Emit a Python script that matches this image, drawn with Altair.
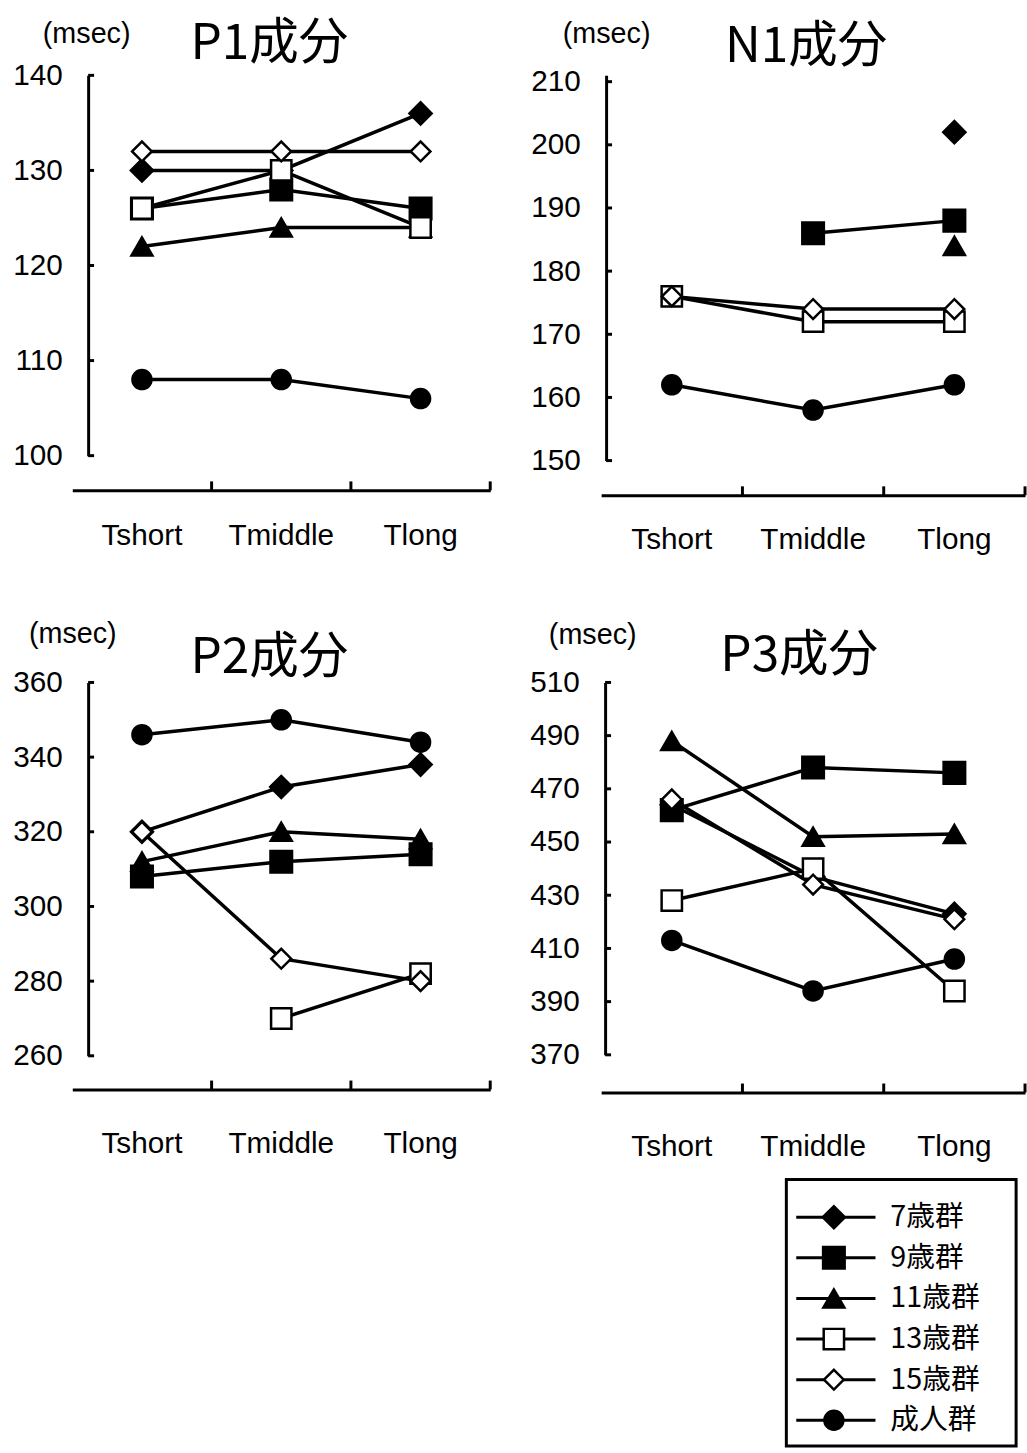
import altair as alt
import pandas as pd

conditions = ["Tshort", "Tmiddle", "Tlong"]
groups = ["7歳群", "9歳群", "11歳群", "13歳群", "15歳群", "成人群"]

# latency in msec for each group, ordered as in `conditions`; None = no peak
p1_values = {
    "7歳群": [130, 130, 136],
    "9歳群": [126, 128, 126],
    "11歳群": [122, 124, 124],
    "13歳群": [126, 130, 124],
    "15歳群": [132, 132, 132],
    "成人群": [108, 108, 106],
}
n1_values = {
    "7歳群": [None, None, 202],
    "9歳群": [None, 186, 188],
    "11歳群": [None, None, 184],
    "13歳群": [176, 172, 172],
    "15歳群": [176, 174, 174],
    "成人群": [162, 158, 162],
}
p2_values = {
    "7歳群": [320, 332, 338],
    "9歳群": [308, 312, 314],
    "11歳群": [312, 320, 318],
    "13歳群": [None, 270, 282],
    "15歳群": [320, 286, 280],
    "成人群": [346, 350, 344],
}
p3_values = {
    "7歳群": [464, 437, 423],
    "9歳群": [462, 478, 476],
    "11歳群": [488, 452, 453],
    "13歳群": [428, 440, 394],
    "15歳群": [466, 434, 421],
    "成人群": [413, 394, 406],
}

p1_ticks = [100, 110, 120, 130, 140]
n1_ticks = [150, 160, 170, 180, 190, 200, 210]
p2_ticks = [260, 280, 300, 320, 340, 360]
p3_ticks = [370, 390, 410, 430, 450, 470, 490, 510]

# marker styling per group
shapes = ["diamond", "square", "triangle-up", "square", "diamond", "circle"]
fills = ["black", "black", "black", "white", "white", "black"]
sizes = [500, 370, 520, 370, 500, 470]

NUM_FONT = "Liberation Sans"
CJK_FONT = "Noto Sans CJK JP"


def to_frame(values):
    rows = []
    for gi, g in enumerate(groups):
        for ci, (c, v) in enumerate(zip(conditions, values[g])):
            if v is not None:
                rows.append({"group": g, "gi": gi, "cond": c, "ci": ci, "value": v})
    return pd.DataFrame(rows)


def marker_encoding():
    return dict(
        shape=alt.Shape("group:N", scale=alt.Scale(domain=groups, range=shapes), legend=None),
        fill=alt.Fill("group:N", scale=alt.Scale(domain=groups, range=fills), legend=None),
        size=alt.Size("group:O", scale=alt.Scale(domain=groups, range=sizes), legend=None),
    )


def panel(title, values, ticks, domain, width, height, y_off, x_off, x_pad,
          unit_x, unit_y, title_dx, title_off):
    df = to_frame(values)
    xscale = alt.Scale(domain=conditions, paddingInner=0, paddingOuter=0)
    yscale = alt.Scale(domain=domain, nice=False, zero=False)
    xaxis = alt.Axis(title=None, ticks=False, tickSize=0, domainWidth=3,
                     domainColor="black", labelFont=NUM_FONT, labelFontSize=30,
                     labelColor="black", labelPadding=x_pad, labelAngle=0,
                     offset=x_off)
    yaxis = alt.Axis(values=ticks, format="d", grid=False, ticks=False, tickSize=0,
                     domainWidth=3, domainColor="black", labelFont=NUM_FONT,
                     labelFontSize=30, labelColor="black", labelPadding=26,
                     offset=y_off, title="(msec)", titleAngle=0, titleX=unit_x,
                     titleY=unit_y, titleAlign="center", titleBaseline="middle",
                     titleFont="Liberation Sans", titleFontSize=29,
                     titleFontWeight="normal", titleColor="black")
    x = alt.X("cond:N", scale=xscale, axis=xaxis, sort=conditions)
    y = alt.Y("value:Q", scale=yscale, axis=yaxis)

    lines = alt.Chart(df).mark_line(color="black", strokeWidth=3.5).encode(
        x=x, y=y, detail="group:N", order="ci:Q"
    )
    # short inward ticks on the value axis
    y_ticks = alt.Chart(pd.DataFrame({"value": ticks})).mark_rule(
        color="black", strokeWidth=3
    ).encode(y=y, x=alt.value(-y_off), x2=alt.value(-y_off + 6))
    # upward ticks on the category axis, at the right edge of each band
    x_ticks = alt.Chart(pd.DataFrame({"cond": conditions})).mark_rule(
        color="black", strokeWidth=3
    ).encode(
        x=alt.X("cond:N", scale=xscale, axis=xaxis, sort=conditions, bandPosition=1),
        y=alt.value(height + x_off - 9),
        y2=alt.value(height + x_off),
    )
    points = alt.Chart(df).mark_point(
        filled=True, stroke="black", strokeWidth=2.5, opacity=1, fillOpacity=1
    ).encode(x=x, y=y, order="gi:Q", **marker_encoding())

    return alt.layer(lines, y_ticks, x_ticks, points).properties(
        width=width, height=height,
        title=alt.TitleParams(text=title, font=CJK_FONT, fontSize=50,
                              fontWeight="normal", color="black", anchor="middle",
                              frame="group", dx=title_dx, offset=title_off),
    )


def legend_layer():
    ldf = pd.DataFrame({"group": groups})
    ly = alt.Y("group:N", scale=alt.Scale(type="point", domain=groups,
                                          range=[540, 745], padding=0), axis=None)
    box = alt.Chart(pd.DataFrame({"k": [0]})).mark_rect(
        fill="white", stroke="black", strokeWidth=3
    ).encode(x=alt.value(187), x2=alt.value(419), y=alt.value(502), y2=alt.value(771))
    rules = alt.Chart(ldf).mark_rule(color="black", strokeWidth=3).encode(
        x=alt.value(197), x2=alt.value(277), y=ly
    )
    marks = alt.Chart(ldf).mark_point(
        filled=True, stroke="black", strokeWidth=2.5, opacity=1, fillOpacity=1
    ).encode(x=alt.value(235), y=ly, **marker_encoding())
    labels = alt.Chart(ldf).mark_text(
        align="left", baseline="middle", font=CJK_FONT, fontSize=29, color="black"
    ).encode(x=alt.value(292), y=ly, text="group:N")
    return alt.layer(box, rules, marks, labels)


c_p1 = panel("P1成分", p1_values, p1_ticks, [100, 140], 422, 384, -16, 35, 31,
             -2, -42, -12, -49)
c_n1 = panel("N1成分", n1_values, n1_ticks, [150, 211], 428, 389, -5, 35, 30,
             0, -42, -7, -53)
c_p2 = panel("P2成分", p2_values, p2_ticks, [260, 360], 422, 377, -16, 34, 40,
             -16, -49, -12, -63)
c_p3_main = panel("P3成分", p3_values, p3_ticks, [370, 510], 428, 376, -4, 38, 40,
                  -13, -48, -14, -60)
c_p3 = alt.layer(c_p3_main, legend_layer()).resolve_scale(y="independent")

chart = alt.concat(
    c_p1, c_n1, c_p2, c_p3, columns=2,
    spacing=alt.RowColnumber(row=224, column=112), bounds="flush",
).properties(
    padding={"left": 12, "top": 12, "right": 0, "bottom": 0},
    background="white",
).configure_view(strokeWidth=0)

chart.save("out.html", embed_options={"renderer": "svg", "actions": False})
